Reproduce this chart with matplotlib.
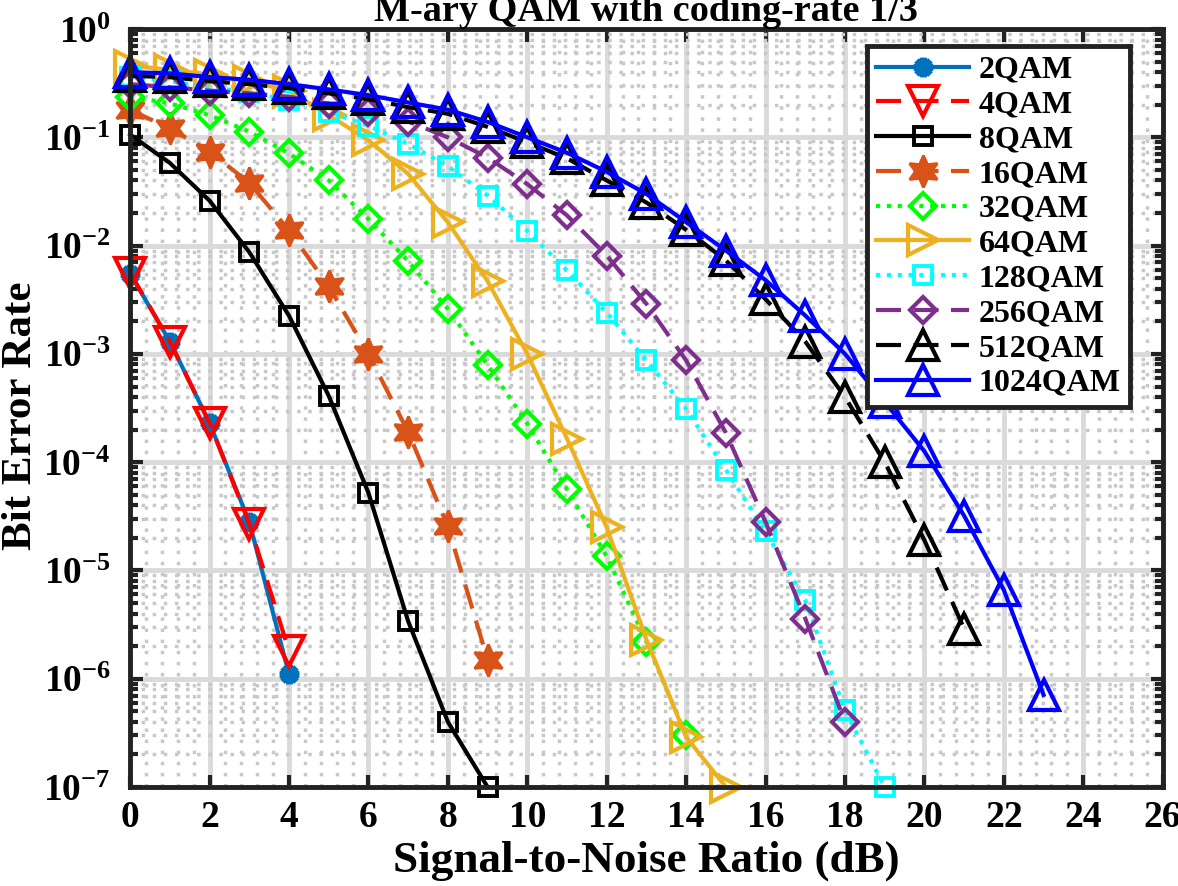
import numpy as np
import matplotlib
matplotlib.use("Agg")
import matplotlib.pyplot as plt
from matplotlib.ticker import LogLocator, MultipleLocator, NullFormatter, FixedLocator

plt.rcParams['font.family'] = ['Liberation Serif', 'DejaVu Serif']
plt.rcParams['font.weight'] = 'bold'
plt.rcParams['mathtext.fontset'] = 'custom'
plt.rcParams['mathtext.rm'] = 'Liberation Serif:bold'
plt.rcParams['mathtext.it'] = 'Liberation Serif:bold'
plt.rcParams['mathtext.bf'] = 'Liberation Serif:bold'

labels = ['2QAM', '4QAM', '8QAM', '16QAM', '32QAM', '64QAM',
          '128QAM', '256QAM', '512QAM', '1024QAM']

ber_2qam = [5.5e-3, 1.3e-3, 2.3e-4, 2.8e-5, 1.1e-6]
ber_4qam = [5.6e-3, 1.3e-3, 2.3e-4, 2.7e-5, 1.8e-6]
ber_8qam = [0.106, 0.058, 0.026, 8.7e-3, 2.25e-3, 4.1e-4, 5.2e-5, 3.4e-6, 4.0e-7, 1.0e-7]
ber_16qam = [0.179, 0.121, 0.074, 0.038, 0.0138, 4.2e-3, 1.0e-3, 1.9e-4, 2.55e-5, 1.5e-6]
ber_32qam = [0.237, 0.206, 0.16, 0.113, 0.071, 0.04, 0.0176, 7.2e-3, 2.6e-3, 7.9e-4,
             2.27e-4, 5.6e-5, 1.35e-5, 2.2e-6, 3.0e-7]
ber_64qam = [0.46, 0.42, 0.38, 0.33, 0.27, 0.16, 0.094, 0.046, 0.0164, 4.7e-3,
             1.0e-3, 1.65e-4, 2.5e-5, 2.3e-6, 2.9e-7, 1.0e-7]
ber_128qam = [0.36, 0.33, 0.29, 0.26, 0.22, 0.172, 0.128, 0.087, 0.054, 0.029,
              0.0137, 5.9e-3, 2.4e-3, 8.7e-4, 3.1e-4, 8.5e-5, 2.3e-5, 5.3e-6, 5.1e-7, 1.0e-7]
ber_256qam = [0.31, 0.29, 0.27, 0.255, 0.237, 0.205, 0.17, 0.14, 0.1, 0.065,
              0.037, 0.019, 8.1e-3, 2.9e-3, 8.7e-4, 1.87e-4, 2.8e-5, 3.6e-6, 4.0e-7]
ber_512qam = [0.37, 0.36, 0.33, 0.31, 0.285, 0.255, 0.225, 0.19, 0.165, 0.125,
              0.09, 0.064, 0.04, 0.025, 0.014, 7.3e-3, 3.2e-3, 1.3e-3, 4.0e-4, 1.0e-4,
              1.9e-5, 2.9e-6]
ber_1024qam = [0.40, 0.39, 0.36, 0.34, 0.31, 0.277, 0.245, 0.21, 0.18, 0.139,
               0.1, 0.072, 0.048, 0.03, 0.0165, 9.0e-3, 4.8e-3, 2.26e-3, 1.0e-3, 3.6e-4,
               1.26e-4, 3.2e-5, 6.6e-6, 7.1e-7]

y_ticks = [1e-7, 1e-6, 1e-5, 1e-4, 1e-3, 1e-2, 1e-1, 1e0]

series = [ber_2qam, ber_4qam, ber_8qam, ber_16qam, ber_32qam, ber_64qam,
          ber_128qam, ber_256qam, ber_512qam, ber_1024qam]

colors = ['#0072BD', '#FF0000', '#000000', '#D95319', '#00FF00', '#EDB120',
          '#00FFFF', '#7E2F8E', '#000000', '#0000FF']
styles = [
    dict(marker=(8, 2, 0), ls='-', ms=14, mfc=None, mew=4.5),
    dict(marker='v', ls='--', ms=21, mfc='none', mew=3.0),
    dict(marker='s', ls='-', ms=13, mfc='none', mew=2.8),
    dict(marker=(6, 1, 0), ls='--', ms=23, mfc=None, mew=2.0),
    dict(marker='D', ls=':', ms=13.5, mfc='none', mew=3.0),
    dict(marker='>', ls='-', ms=21, mfc='none', mew=3.0),
    dict(marker='s', ls=':', ms=13, mfc='none', mew=2.8),
    dict(marker='D', ls='--', ms=13.5, mfc='none', mew=3.0),
    dict(marker='^', ls='--', ms=21, mfc='none', mew=3.0),
    dict(marker='^', ls='-', ms=21, mfc='none', mew=3.0),
]

fig = plt.figure(figsize=(11.78, 8.86), dpi=100)
ax = fig.add_axes([0.1105, 0.1117, 0.8765, 0.8555])

for y, lab, c, st in zip(series, labels, colors, styles):
    x = np.arange(len(y))
    kw = dict(color=c, lw=3.0, marker=st['marker'], ms=st['ms'], mew=st['mew'],
              mec=c, label=lab, clip_on=False)
    kw['mfc'] = 'none' if st['mfc'] == 'none' else c
    line, = ax.plot(x, y, linestyle='-', **kw)
    if st['ls'] == '--':
        line.set_dashes((6, 3))
    elif st['ls'] == ':':
        line.set_dashes((1, 1.6))

ax.set_yscale('log')
ax.set_xlim(0, 26)
ax.set_ylim(1e-7, 1)
ax.xaxis.set_major_locator(MultipleLocator(2))
ax.xaxis.set_minor_locator(MultipleLocator(0.4))
ax.yaxis.set_major_locator(FixedLocator(y_ticks))
ax.yaxis.set_minor_locator(LogLocator(base=10, subs=np.arange(2, 10), numticks=20))
ax.yaxis.set_minor_formatter(NullFormatter())

ax.grid(True, which='major', color='#dadada', lw=3.5, ls='-')
ax.grid(True, which='minor', color='#c8c8c8', lw=2.5, ls=(0, (1, 2.2)))
ax.set_axisbelow(True)

ax.tick_params(which='both', direction='in', top=True, right=True, width=3,
               labelsize=27, color='#222222')
ax.tick_params(axis='x', which='major', pad=9)
ax.tick_params(axis='y', which='major', pad=14)
ax.tick_params(which='major', length=9)
ax.tick_params(axis='y', which='minor', length=6)
ax.tick_params(axis='x', which='minor', length=0)
for sp in ax.spines.values():
    sp.set_linewidth(3.5)
    sp.set_color('#222222')

ax.set_xlabel('Signal-to-Noise Ratio (dB)', fontsize=32.5, fontweight='bold', labelpad=4)
ax.set_ylabel('Bit Error Rate', fontsize=31, fontweight='bold')
ax.yaxis.set_label_coords(-0.087, 0.49)
ax.set_title('M-ary QAM with coding-rate 1/3', fontsize=27.5, fontweight='bold', pad=4)

leg = ax.legend(loc='upper right', bbox_to_anchor=(0.9685, 0.978), fontsize=23,
                frameon=True, fancybox=False, framealpha=1, edgecolor='#222222',
                handlelength=2.9, labelspacing=0.17, borderpad=0.3,
                handletextpad=0.3, borderaxespad=0)
leg.get_frame().set_linewidth(3.5)
for t in leg.get_texts():
    t.set_fontweight('bold')

fig.savefig('out.png', dpi=100)
